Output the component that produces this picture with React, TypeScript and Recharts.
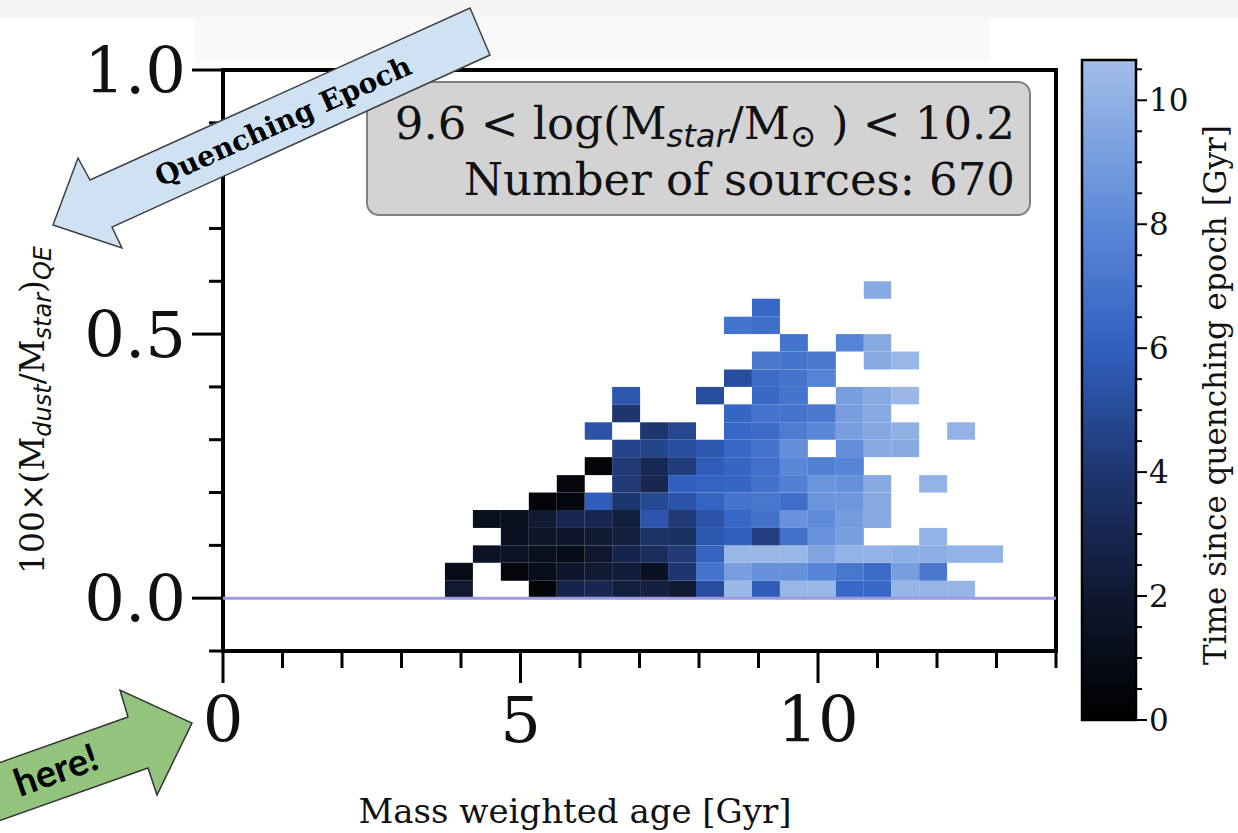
import React from "react";
import { ComposedChart, Scatter, XAxis, YAxis, ReferenceArea, ReferenceLine } from "recharts";

const SERIF = "'DejaVu Serif', serif";
const SANS = "'DejaVu Sans', sans-serif";

// bin edges
const ageEdges = [3.73, 4.2, 4.67, 5.14, 5.61, 6.08, 6.54, 7.01, 7.48, 7.95, 8.42, 8.89, 9.36, 9.83, 10.3, 10.77, 11.23, 11.7, 12.17, 12.64, 13.11];
const dustEdges = [0, 0.033, 0.067, 0.1, 0.133, 0.167, 0.2, 0.233, 0.267, 0.3, 0.333, 0.367, 0.4, 0.433, 0.467, 0.5, 0.533, 0.567, 0.6];

// time since quenching epoch [Gyr] per cell, one row per dust bin (bottom first), null = empty
const _ = null;
const r00 = [2.0, _, _, 0.3, 2.8, 3.0, 2.4, 2.5, 2.1, 5.1, 10.4, 5.8, 10.3, 10.3, 6.4, 6.4, 10.2, 10.2, 10.2, _];
const r01 = [1.0, _, 0.5, 1.2, 1.8, 2.1, 2.3, 1.4, 4.0, 7.0, 9.1, 8.4, 8.4, 7.8, 7.1, 6.6, 9.1, 7.2, _, _];
const r02 = [_, 1.6, 1.6, 1.3, 1.0, 1.9, 2.8, 3.4, 4.2, 6.2, 10.3, 10.3, 10.3, 9.4, 10.1, 10.1, 9.9, 9.9, 10.1, 10.1];
const r03 = [_, _, 1.4, 1.8, 1.8, 2.1, 2.5, 3.7, 3.6, 5.6, 6.0, 4.4, 6.9, 8.5, 9.1, _, _, 10.1, _, _];
const r04 = [_, 1.3, 1.3, 2.1, 3.0, 3.0, 2.4, 5.5, 4.2, 5.4, 6.4, 6.9, 8.5, 8.2, 9.0, 9.7, _, _, _, _];
const r05 = [_, _, _, 0.4, 0.6, 5.9, 3.9, 4.9, 5.4, 6.2, 7.0, 7.1, 6.7, 8.6, 8.7, 9.7, _, _, _, _];
const r06 = [_, _, _, _, 0.5, _, 4.2, 3.0, 6.0, 6.2, 6.3, 6.9, 7.6, 8.6, 8.4, 9.7, _, 10.1, _, _];
const r07 = [_, _, _, _, _, 0.3, 4.2, 3.1, 4.3, 5.8, 6.3, 6.8, 8.0, 7.6, 7.8, _, _, _, _, _];
const r08 = [_, _, _, _, _, _, 4.7, 4.7, 5.1, 5.6, 6.4, 7.0, 8.3, _, 8.3, 9.7, 9.7, _, _, _];
const r09 = [_, _, _, _, _, 5.4, _, 4.0, 4.8, _, 6.4, 6.6, 7.4, 8.0, 9.1, 9.6, 10.0, _, 10.1, _];
const r10 = [_, _, _, _, _, _, 4.0, _, _, _, 6.3, 7.0, 7.0, 7.2, 9.1, 9.7, _, _, _, _];
const r11 = [_, _, _, _, _, _, 5.6, _, _, 5.1, _, 6.4, 7.0, _, 9.1, 9.7, 10.4, _, _, _];
const r12 = [_, _, _, _, _, _, _, _, _, _, 5.1, 6.6, 7.0, 7.8, _, _, _, _, _, _];
const r13 = [_, _, _, _, _, _, _, _, _, _, _, 7.2, 7.0, 7.2, _, 9.7, 10.3, _, _, _];
const r14 = [_, _, _, _, _, _, _, _, _, _, _, _, 7.0, _, 7.8, 9.7, _, _, _, _];
const r15 = [_, _, _, _, _, _, _, _, _, _, 7.0, 6.7, _, _, _, _, _, _, _, _];
const r16 = [_, _, _, _, _, _, _, _, _, _, _, 6.4, _, _, _, _, _, _, _, _];
const r17 = [_, _, _, _, _, _, _, _, _, _, _, _, _, _, _, 9.7, _, _, _, _];
const qeRows = [r00, r01, r02, r03, r04, r05, r06, r07, r08, r09, r10, r11, r12, r13, r14, r15, r16, r17];

const xTicks = [0, 1, 2, 3, 4, 5, 6, 7, 8, 9, 10, 11, 12, 13, 14];
const xMajor = [0, 5, 10];
const yTicks = [-0.1, 0, 0.1, 0.2, 0.3, 0.4, 0.5, 0.6, 0.7, 0.8, 0.9, 1.0];
const yMajor = [0, 0.5, 1.0];
const cbTicks = [0, 0.5, 1, 1.5, 2, 2.5, 3, 3.5, 4, 4.5, 5, 5.5, 6, 6.5, 7, 7.5, 8, 8.5, 9, 9.5, 10, 10.5];
const cbMajor = [0, 2, 4, 6, 8, 10];
const cbMax = 10.65;

// colormap: black -> royal blue -> light steel blue
const cmapStops = [0, 2, 4, 6, 8, 10, 10.65];
const cmapColors = ["#000000", "#0f1830", "#1e3670", "#3060c0", "#5a88d8", "#90b0e4", "#a2bde9"];

function hex(c: string) {
  return [1, 3, 5].map((i) => parseInt(c.slice(i, i + 2), 16));
}
function cmap(v: number) {
  for (let i = 1; i < cmapStops.length; i++) {
    if (v <= cmapStops[i] || i === cmapStops.length - 1) {
      const t = Math.max(0, Math.min(1, (v - cmapStops[i - 1]) / (cmapStops[i] - cmapStops[i - 1])));
      const a = hex(cmapColors[i - 1]);
      const b = hex(cmapColors[i]);
      const m = a.map((x, k) => Math.round(x + (b[k] - x) * t));
      return `rgb(${m[0]},${m[1]},${m[2]})`;
    }
  }
  return "#000";
}

const cells: { x1: number; x2: number; y1: number; y2: number; x: number; y: number; v: number }[] = [];
qeRows.forEach((row, r) =>
  row.forEach((v, c) => {
    if (v === null) return;
    cells.push({
      x1: ageEdges[c], x2: ageEdges[c + 1], y1: dustEdges[r], y2: dustEdges[r + 1],
      x: (ageEdges[c] + ageEdges[c + 1]) / 2, y: (dustEdges[r] + dustEdges[r + 1]) / 2, v,
    });
  })
);

// colorbar anchor so the little chart has a domain to work with
const cbAnchor = [{ x: 0.5, y: cbMax / 2 }];

const near = (list: number[], v: number) => list.some((m) => Math.abs(m - v) < 1e-6);

const XTick = (props: any) => {
  const { x, y, payload } = props;
  const major = near(xMajor, payload.value);
  return (
    <g>
      <line x1={x} x2={x} y1={y} y2={y + (major ? 32 : 17)} stroke="#000" strokeWidth={3} />
      {major && (
        <text x={x} y={y + 91} textAnchor="middle" fontSize={64} fontFamily={SERIF} fill="#111">
          {payload.value}
        </text>
      )}
    </g>
  );
};

const YTick = (props: any) => {
  const { x, y, payload } = props;
  const major = near(yMajor, payload.value);
  return (
    <g>
      <line x1={x - (major ? 31 : 14)} x2={x} y1={y} y2={y} stroke="#000" strokeWidth={3} />
      {major && (
        <text x={x - 37} y={y + 23} textAnchor="end" fontSize={64} fontFamily={SERIF} fill="#111">
          {payload.value.toFixed(1)}
        </text>
      )}
    </g>
  );
};

const CbTick = (props: any) => {
  const { x, y, payload } = props;
  const major = near(cbMajor, payload.value);
  return (
    <g>
      <line x1={x} x2={x + (major ? 11 : 6)} y1={y} y2={y} stroke="#000" strokeWidth={2} />
      {major && (
        <text x={x + 13} y={y + 11} textAnchor="start" fontSize={31} fontFamily={SERIF} fill="#111">
          {payload.value}
        </text>
      )}
    </g>
  );
};

const gradStops = [...cmapStops].reverse();

export default function App() {
  return (
    <div style={{ position: "absolute", left: 0, top: 0, width: 1238, height: 833, background: "#fff", overflow: "hidden" }}>
      <div style={{ position: "absolute", left: 0, top: 0, width: 1238, height: 18, background: "#f5f5f5" }} />
      <div style={{ position: "absolute", left: 195, top: 18, width: 795, height: 44, background: "#f9f9f9" }} />

      <div style={{ position: "absolute", left: 0, top: 0 }}>
        <ComposedChart width={1238} height={833} margin={{ top: 70, right: 182, bottom: 152, left: 163 }}>
          <XAxis
            type="number"
            dataKey="x"
            domain={[0, 14]}
            ticks={xTicks}
            interval={0}
            allowDataOverflow
            axisLine={false}
            tickLine={false}
            tickSize={0}
            tickMargin={0}
            tick={<XTick />}
            height={30}
          />
          <YAxis
            type="number"
            dataKey="y"
            domain={[-0.1, 1.0]}
            ticks={yTicks}
            interval={0}
            allowDataOverflow
            axisLine={false}
            tickLine={false}
            tickSize={0}
            tickMargin={0}
            tick={<YTick />}
            width={60}
          />
          {cells.map((c, i) => (
            <ReferenceArea
              key={i}
              x1={c.x1}
              x2={c.x2}
              y1={c.y1}
              y2={c.y2}
              fill={cmap(c.v)}
              fillOpacity={1}
              stroke="none"
            />
          ))}
          <Scatter data={cells} isAnimationActive={false} shape={() => <g />} />
          <ReferenceLine y={0} stroke="#9d9ae2" strokeWidth={3} />
          <ReferenceArea x1={0} x2={14} y1={-0.1} y2={1.0} fill="none" fillOpacity={0} stroke="#000" strokeWidth={4} />
        </ComposedChart>
      </div>

      <div style={{ position: "absolute", left: 1022, top: 0 }}>
        <ComposedChart width={216} height={833} margin={{ top: 60, right: 22, bottom: 113, left: 60 }}>
          <defs>
            <linearGradient id="cbGrad" x1="0" y1="0" x2="0" y2="1">
              {gradStops.map((s) => (
                <stop key={s} offset={`${(1 - s / cbMax) * 100}%`} stopColor={cmap(s)} />
              ))}
            </linearGradient>
          </defs>
          <XAxis type="number" dataKey="x" domain={[0, 1]} allowDataOverflow hide />
          <YAxis
            type="number"
            dataKey="y"
            orientation="right"
            domain={[0, cbMax]}
            ticks={cbTicks}
            interval={0}
            allowDataOverflow
            axisLine={false}
            tickLine={false}
            tickSize={0}
            tickMargin={0}
            tick={<CbTick />}
            width={80}
          />
          <Scatter data={cbAnchor} isAnimationActive={false} shape={() => <g />} />
          <ReferenceArea x1={0} x2={1} y1={0} y2={cbMax} fill="url(#cbGrad)" fillOpacity={1} stroke="#000" strokeWidth={2.5} />
        </ComposedChart>
      </div>

      <svg width={1238} height={833} style={{ position: "absolute", left: 0, top: 0, pointerEvents: "none" }}>
        {/* annotation box */}
        <rect x={367} y={82} width={663} height={133} rx={12} fill="#d3d3d3" stroke="#808080" strokeWidth={2} />
        <text x={1015} y={139} textAnchor="end" fontSize={45} fontFamily={SERIF} fill="#111">
          9.6 &lt; log(M
          <tspan fontFamily={SANS} fontStyle="italic" fontSize={32} dy={8}>star</tspan>
          <tspan dy={-8}>/M</tspan>
          <tspan fontSize={32} dy={8}>⊙</tspan>
          <tspan dy={-8}> ) &lt; 10.2</tspan>
        </text>
        <text x={1015} y={195} textAnchor="end" fontSize={45} fontFamily={SERIF} fill="#111">
          Number of sources: 670
        </text>

        {/* axis labels */}
        <text x={575} y={823} textAnchor="middle" fontSize={34} fontFamily={SERIF} fill="#111">
          Mass weighted age [Gyr]
        </text>
        <text transform="rotate(-90 44 410)" x={44} y={410} textAnchor="middle" fontSize={33} fontFamily={SERIF} fill="#111">
          100×(M
          <tspan fontFamily={SANS} fontStyle="italic" fontSize={24} dy={7}>dust</tspan>
          <tspan dy={-7}>/M</tspan>
          <tspan fontFamily={SANS} fontStyle="italic" fontSize={24} dy={7}>star</tspan>
          <tspan dy={-7}>)</tspan>
          <tspan fontFamily={SANS} fontStyle="italic" fontSize={24} dy={7}>QE</tspan>
        </text>
        <text transform="rotate(-90 1226 395)" x={1226} y={395} textAnchor="middle" fontSize={31} fontFamily={SERIF} fill="#111">
          Time since quenching epoch [Gyr]
        </text>

        {/* Quenching Epoch arrow */}
        <polygon
          points="470,8 490,55 112,227 122,248 53,225 78,158 90,180"
          fill="#cfe2f3"
          stroke="#404040"
          strokeWidth={1.5}
        />
        <text
          transform="rotate(-24.3 283 121)"
          x={283}
          y={121}
          dy="0.35em"
          textAnchor="middle"
          fontSize={28}
          fontWeight="bold"
          fontFamily={SERIF}
          fill="#000"
        >
          Quenching Epoch
        </text>

        {/* here! arrow */}
        <polygon
          points="-10,766 128,717 120,690 192,723 157,795 148,768 -10,824"
          fill="#93c47d"
          stroke="#333"
          strokeWidth={1.5}
        />
        <text
          transform="rotate(-19.4 56 770)"
          x={56}
          y={770}
          dy="0.35em"
          textAnchor="middle"
          fontSize={38}
          fontWeight="bold"
          fontFamily="Lato, 'Open Sans', sans-serif"
          fill="#000"
        >
          here!
        </text>
      </svg>
    </div>
  );
}
